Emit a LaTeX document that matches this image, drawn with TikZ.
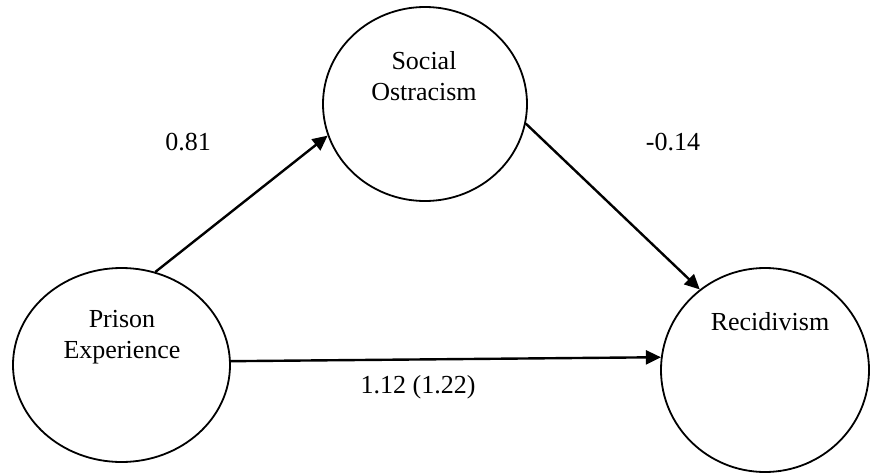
\documentclass[tikz,border=0pt]{standalone}
\usepackage{fontspec}
\setmainfont{Liberation Serif}
\usetikzlibrary{shapes.geometric,arrows.meta}
\begin{document}
\begin{tikzpicture}[x=1pt,y=-1pt,
  construct/.style={ellipse,draw,line width=1.8pt,inner sep=0pt},
  lbl/.style={font=\fontsize{26}{31}\selectfont,align=center,inner sep=0pt},
  path/.style={line width=2.4pt,-{Triangle[length=15pt,width=14pt]}}]
\useasboundingbox (0,0) rectangle (870,474);
% latent constructs
\node[construct,minimum width=217pt,minimum height=194pt] (pe) at (121.5,365) {};
\node[construct,minimum width=204pt,minimum height=194pt] (so) at (425,104) {};
\node[construct,minimum width=208pt,minimum height=204pt] (rec) at (765,370) {};
% construct names
\node[lbl] (pet) at (122,337) {Prison\\Experience};
\node[lbl] (sot) at (424,76) {Social\\Ostracism};
\node[lbl] (rect) at (770,322) {Recidivism};
% structural paths
\draw[path] (pe.70) -- (so.198);
\draw[path] (so.-11) -- (rec.129);
\draw[path] (pe.2) -- (rec.173.5);
% path coefficients
\node[lbl] (c1) at (188,142) {0.81};
\node[lbl] (c2) at (673,142) {-0.14};
\node[lbl] (c3) at (418,387) {1.12 (1.22)};
\end{tikzpicture}
\end{document}
